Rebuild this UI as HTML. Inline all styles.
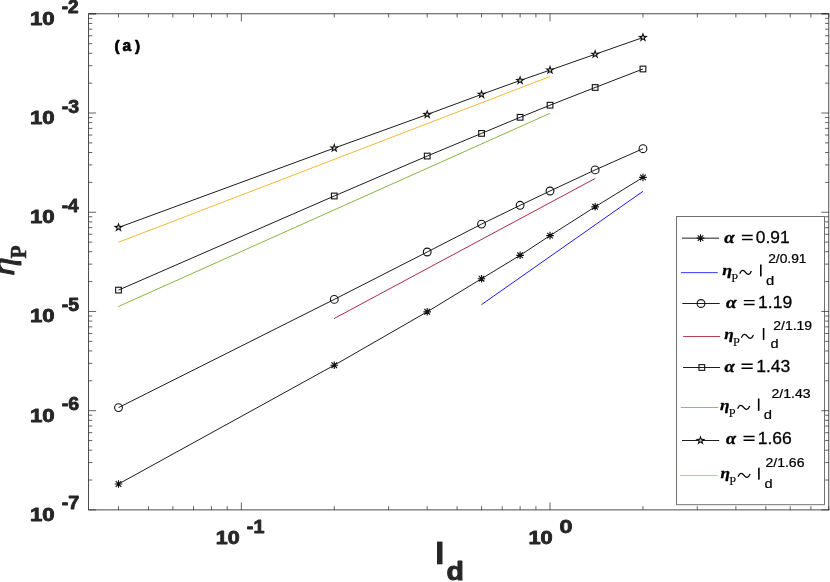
<!DOCTYPE html>
<html><head><meta charset="utf-8"><title>chart</title>
<style>html,body{margin:0;padding:0;background:#fff;overflow:hidden}svg{display:block;will-change:transform}</style>
</head><body>
<svg width="830" height="582" viewBox="0 0 830 582">
<rect x="0" y="0" width="830" height="582" fill="#ffffff"/>
<rect x="676.7" y="216.65" width="147.8" height="288.15" fill="#ffffff" stroke="#262626" stroke-width="0.66"/>
<path d="M88.60 509.90h7.50M828.80 509.90h-7.50M88.60 480.03h3.70M828.80 480.03h-3.70M88.60 462.56h3.70M828.80 462.56h-3.70M88.60 450.16h3.70M828.80 450.16h-3.70M88.60 440.55h3.70M828.80 440.55h-3.70M88.60 432.69h3.70M828.80 432.69h-3.70M88.60 426.05h3.70M828.80 426.05h-3.70M88.60 420.30h3.70M828.80 420.30h-3.70M88.60 415.22h3.70M828.80 415.22h-3.70M88.60 410.68h7.50M828.80 410.68h-7.50M88.60 380.81h3.70M828.80 380.81h-3.70M88.60 363.34h3.70M828.80 363.34h-3.70M88.60 350.94h3.70M828.80 350.94h-3.70M88.60 341.33h3.70M828.80 341.33h-3.70M88.60 333.47h3.70M828.80 333.47h-3.70M88.60 326.83h3.70M828.80 326.83h-3.70M88.60 321.08h3.70M828.80 321.08h-3.70M88.60 316.00h3.70M828.80 316.00h-3.70M88.60 311.46h7.50M828.80 311.46h-7.50M88.60 281.59h3.70M828.80 281.59h-3.70M88.60 264.12h3.70M828.80 264.12h-3.70M88.60 251.72h3.70M828.80 251.72h-3.70M88.60 242.11h3.70M828.80 242.11h-3.70M88.60 234.25h3.70M828.80 234.25h-3.70M88.60 227.61h3.70M828.80 227.61h-3.70M88.60 221.86h3.70M828.80 221.86h-3.70M88.60 216.78h3.70M828.80 216.78h-3.70M88.60 212.24h7.50M828.80 212.24h-7.50M88.60 182.37h3.70M828.80 182.37h-3.70M88.60 164.90h3.70M828.80 164.90h-3.70M88.60 152.50h3.70M828.80 152.50h-3.70M88.60 142.89h3.70M828.80 142.89h-3.70M88.60 135.03h3.70M828.80 135.03h-3.70M88.60 128.39h3.70M828.80 128.39h-3.70M88.60 122.64h3.70M828.80 122.64h-3.70M88.60 117.56h3.70M828.80 117.56h-3.70M88.60 113.02h7.50M828.80 113.02h-7.50M88.60 83.15h3.70M828.80 83.15h-3.70M88.60 65.68h3.70M828.80 65.68h-3.70M88.60 53.28h3.70M828.80 53.28h-3.70M88.60 43.67h3.70M828.80 43.67h-3.70M88.60 35.81h3.70M828.80 35.81h-3.70M88.60 29.17h3.70M828.80 29.17h-3.70M88.60 23.42h3.70M828.80 23.42h-3.70M88.60 18.34h3.70M828.80 18.34h-3.70M88.60 13.80h7.50M828.80 13.80h-7.50M88.60 13.80h7.50M828.80 13.80h-7.50M118.51 509.90v-3.70M118.51 13.80v3.70M148.43 509.90v-3.70M148.43 13.80v3.70M172.87 509.90v-3.70M172.87 13.80v3.70M193.54 509.90v-3.70M193.54 13.80v3.70M211.44 509.90v-3.70M211.44 13.80v3.70M227.23 509.90v-3.70M227.23 13.80v3.70M241.35 509.90v-7.50M241.35 13.80v7.50M334.27 509.90v-3.70M334.27 13.80v3.70M388.63 509.90v-3.70M388.63 13.80v3.70M427.20 509.90v-3.70M427.20 13.80v3.70M457.11 509.90v-3.70M457.11 13.80v3.70M481.55 509.90v-3.70M481.55 13.80v3.70M502.22 509.90v-3.70M502.22 13.80v3.70M520.12 509.90v-3.70M520.12 13.80v3.70M535.91 509.90v-3.70M535.91 13.80v3.70M550.03 509.90v-7.50M550.03 13.80v7.50M642.96 509.90v-3.70M642.96 13.80v3.70M697.31 509.90v-3.70M697.31 13.80v3.70M735.88 509.90v-3.70M735.88 13.80v3.70M765.79 509.90v-3.70M765.79 13.80v3.70M790.23 509.90v-3.70M790.23 13.80v3.70M810.90 509.90v-3.70M810.90 13.80v3.70M828.80 509.90v-3.70M828.80 13.80v3.70" stroke="#262626" stroke-width="0.72" fill="none"/>
<rect x="88.60" y="13.80" width="740.20" height="496.10" fill="none" stroke="#262626" stroke-width="0.82"/>
<line x1="118.20" y1="242.40" x2="550.00" y2="76.50" stroke="#edb120" stroke-width="0.9"/>
<line x1="118.20" y1="306.60" x2="550.00" y2="113.30" stroke="#77ac30" stroke-width="0.9"/>
<line x1="334.00" y1="318.60" x2="595.10" y2="178.50" stroke="#a2142f" stroke-width="0.9"/>
<line x1="481.40" y1="304.70" x2="643.00" y2="191.30" stroke="#0000ff" stroke-width="0.9"/>
<polyline points="118.51,227.50 334.27,148.10 427.20,114.50 481.55,94.40 520.12,80.50 550.03,70.10 595.14,54.30 642.96,37.50" fill="none" stroke="#111111" stroke-width="0.95"/>
<polygon points="118.51,222.25 119.72,225.84 123.51,225.88 120.46,228.13 121.60,231.75 118.51,229.55 115.43,231.75 116.56,228.13 113.52,225.88 117.31,225.84" fill="#111111"/><polygon points="118.51,225.60 118.97,226.87 120.32,226.91 119.26,227.74 119.63,229.04 118.51,228.28 117.40,229.04 117.77,227.74 116.71,226.91 118.06,226.87" fill="#c8c8c8"/>
<polygon points="334.27,142.85 335.48,146.44 339.27,146.48 336.22,148.73 337.36,152.35 334.27,150.15 331.19,152.35 332.32,148.73 329.28,146.48 333.07,146.44" fill="#111111"/><polygon points="334.27,146.20 334.73,147.47 336.08,147.51 335.02,148.34 335.39,149.64 334.27,148.88 333.16,149.64 333.53,148.34 332.47,147.51 333.82,147.47" fill="#c8c8c8"/>
<polygon points="427.20,109.25 428.40,112.84 432.19,112.88 429.15,115.13 430.28,118.75 427.20,116.55 424.11,118.75 425.25,115.13 422.20,112.88 425.99,112.84" fill="#111111"/><polygon points="427.20,112.60 427.65,113.87 429.00,113.91 427.94,114.74 428.31,116.04 427.20,115.28 426.08,116.04 426.45,114.74 425.39,113.91 426.74,113.87" fill="#c8c8c8"/>
<polygon points="481.55,89.15 482.76,92.74 486.55,92.78 483.50,95.03 484.64,98.65 481.55,96.45 478.47,98.65 479.60,95.03 476.56,92.78 480.35,92.74" fill="#111111"/><polygon points="481.55,92.50 482.01,93.77 483.36,93.81 482.29,94.64 482.67,95.94 481.55,95.18 480.44,95.94 480.81,94.64 479.75,93.81 481.09,93.77" fill="#c8c8c8"/>
<polygon points="520.12,75.25 521.32,78.84 525.11,78.88 522.07,81.13 523.20,84.75 520.12,82.55 517.03,84.75 518.17,81.13 515.13,78.88 518.91,78.84" fill="#111111"/><polygon points="520.12,78.60 520.58,79.87 521.93,79.91 520.86,80.74 521.24,82.04 520.12,81.28 519.00,82.04 519.38,80.74 518.31,79.91 519.66,79.87" fill="#c8c8c8"/>
<polygon points="550.03,64.85 551.24,68.44 555.03,68.48 551.98,70.73 553.12,74.35 550.03,72.15 546.95,74.35 548.08,70.73 545.04,68.48 548.83,68.44" fill="#111111"/><polygon points="550.03,68.20 550.49,69.47 551.84,69.51 550.77,70.34 551.15,71.64 550.03,70.88 548.92,71.64 549.29,70.34 548.23,69.51 549.57,69.47" fill="#c8c8c8"/>
<polygon points="595.14,49.05 596.34,52.64 600.13,52.68 597.09,54.93 598.23,58.55 595.14,56.35 592.05,58.55 593.19,54.93 590.15,52.68 593.93,52.64" fill="#111111"/><polygon points="595.14,52.40 595.60,53.67 596.95,53.71 595.88,54.54 596.26,55.84 595.14,55.08 594.02,55.84 594.40,54.54 593.33,53.71 594.68,53.67" fill="#c8c8c8"/>
<polygon points="642.96,32.25 644.16,35.84 647.95,35.88 644.90,38.13 646.04,41.75 642.96,39.55 639.87,41.75 641.01,38.13 637.96,35.88 641.75,35.84" fill="#111111"/><polygon points="642.96,35.60 643.41,36.87 644.76,36.91 643.70,37.74 644.07,39.04 642.96,38.28 641.84,39.04 642.21,37.74 641.15,36.91 642.50,36.87" fill="#c8c8c8"/>
<polyline points="118.51,290.10 334.27,196.00 427.20,156.05 481.55,133.40 520.12,117.30 550.03,105.20 595.14,87.50 642.96,69.00" fill="none" stroke="#111111" stroke-width="0.95"/>
<rect x="115.66" y="287.25" width="5.70" height="5.70" fill="none" stroke="#111111" stroke-width="1.1"/>
<rect x="331.42" y="193.15" width="5.70" height="5.70" fill="none" stroke="#111111" stroke-width="1.1"/>
<rect x="424.35" y="153.20" width="5.70" height="5.70" fill="none" stroke="#111111" stroke-width="1.1"/>
<rect x="478.70" y="130.55" width="5.70" height="5.70" fill="none" stroke="#111111" stroke-width="1.1"/>
<rect x="517.27" y="114.45" width="5.70" height="5.70" fill="none" stroke="#111111" stroke-width="1.1"/>
<rect x="547.18" y="102.35" width="5.70" height="5.70" fill="none" stroke="#111111" stroke-width="1.1"/>
<rect x="592.29" y="84.65" width="5.70" height="5.70" fill="none" stroke="#111111" stroke-width="1.1"/>
<rect x="640.11" y="66.15" width="5.70" height="5.70" fill="none" stroke="#111111" stroke-width="1.1"/>
<polyline points="118.51,407.60 334.27,299.40 427.20,252.00 481.55,224.10 520.12,205.30 550.03,191.00 595.14,169.90 642.96,148.70" fill="none" stroke="#111111" stroke-width="0.95"/>
<circle cx="118.51" cy="407.60" r="3.9" fill="none" stroke="#111111" stroke-width="1.1"/>
<circle cx="334.27" cy="299.40" r="3.9" fill="none" stroke="#111111" stroke-width="1.1"/>
<circle cx="427.20" cy="252.00" r="3.9" fill="none" stroke="#111111" stroke-width="1.1"/>
<circle cx="481.55" cy="224.10" r="3.9" fill="none" stroke="#111111" stroke-width="1.1"/>
<circle cx="520.12" cy="205.30" r="3.9" fill="none" stroke="#111111" stroke-width="1.1"/>
<circle cx="550.03" cy="191.00" r="3.9" fill="none" stroke="#111111" stroke-width="1.1"/>
<circle cx="595.14" cy="169.90" r="3.9" fill="none" stroke="#111111" stroke-width="1.1"/>
<circle cx="642.96" cy="148.70" r="3.9" fill="none" stroke="#111111" stroke-width="1.1"/>
<polyline points="118.51,484.00 334.27,365.20 427.20,311.80 481.55,278.70 520.12,255.30 550.03,235.60 595.14,206.80 642.96,177.40" fill="none" stroke="#111111" stroke-width="0.95"/>
<path d="M114.71 484.00h7.60M118.51 480.20v7.60M115.70 481.19l5.62 5.62M115.70 486.81l5.62 -5.62" stroke="#111111" stroke-width="1.15" fill="none"/>
<path d="M330.47 365.20h7.60M334.27 361.40v7.60M331.46 362.39l5.62 5.62M331.46 368.01l5.62 -5.62" stroke="#111111" stroke-width="1.15" fill="none"/>
<path d="M423.40 311.80h7.60M427.20 308.00v7.60M424.38 308.99l5.62 5.62M424.38 314.61l5.62 -5.62" stroke="#111111" stroke-width="1.15" fill="none"/>
<path d="M477.75 278.70h7.60M481.55 274.90v7.60M478.74 275.89l5.62 5.62M478.74 281.51l5.62 -5.62" stroke="#111111" stroke-width="1.15" fill="none"/>
<path d="M516.32 255.30h7.60M520.12 251.50v7.60M517.31 252.49l5.62 5.62M517.31 258.11l5.62 -5.62" stroke="#111111" stroke-width="1.15" fill="none"/>
<path d="M546.23 235.60h7.60M550.03 231.80v7.60M547.22 232.79l5.62 5.62M547.22 238.41l5.62 -5.62" stroke="#111111" stroke-width="1.15" fill="none"/>
<path d="M591.34 206.80h7.60M595.14 203.00v7.60M592.33 203.99l5.62 5.62M592.33 209.61l5.62 -5.62" stroke="#111111" stroke-width="1.15" fill="none"/>
<path d="M639.16 177.40h7.60M642.96 173.60v7.60M640.14 174.59l5.62 5.62M640.14 180.21l5.62 -5.62" stroke="#111111" stroke-width="1.15" fill="none"/>
<text transform="translate(29.96 24.77) scale(1.2386 1)" font-family='"Liberation Sans", sans-serif' font-weight="bold" font-style="normal" font-size="17.95" fill="#262626" stroke="#262626" stroke-width="0.90" stroke-linejoin="round" vector-effect="non-scaling-stroke">10</text>
<text transform="translate(61.79 13.32) scale(1.0191 1)" font-family='"Liberation Sans", sans-serif' font-weight="bold" font-style="normal" font-size="18.59" fill="#262626" stroke="#262626" stroke-width="0.90" stroke-linejoin="round" vector-effect="non-scaling-stroke">-2</text>
<text transform="translate(29.96 123.99) scale(1.2386 1)" font-family='"Liberation Sans", sans-serif' font-weight="bold" font-style="normal" font-size="17.95" fill="#262626" stroke="#262626" stroke-width="0.90" stroke-linejoin="round" vector-effect="non-scaling-stroke">10</text>
<text transform="translate(61.77 112.54) scale(1.0526 1)" font-family='"Liberation Sans", sans-serif' font-weight="bold" font-style="normal" font-size="18.59" fill="#262626" stroke="#262626" stroke-width="0.90" stroke-linejoin="round" vector-effect="non-scaling-stroke">-3</text>
<text transform="translate(29.96 223.21) scale(1.2386 1)" font-family='"Liberation Sans", sans-serif' font-weight="bold" font-style="normal" font-size="17.95" fill="#262626" stroke="#262626" stroke-width="0.90" stroke-linejoin="round" vector-effect="non-scaling-stroke">10</text>
<text transform="translate(61.80 211.76) scale(1.0151 1)" font-family='"Liberation Sans", sans-serif' font-weight="bold" font-style="normal" font-size="18.59" fill="#262626" stroke="#262626" stroke-width="0.90" stroke-linejoin="round" vector-effect="non-scaling-stroke">-4</text>
<text transform="translate(29.96 322.43) scale(1.2386 1)" font-family='"Liberation Sans", sans-serif' font-weight="bold" font-style="normal" font-size="17.95" fill="#262626" stroke="#262626" stroke-width="0.90" stroke-linejoin="round" vector-effect="non-scaling-stroke">10</text>
<text transform="translate(61.77 310.98) scale(1.0430 1)" font-family='"Liberation Sans", sans-serif' font-weight="bold" font-style="normal" font-size="18.59" fill="#262626" stroke="#262626" stroke-width="0.90" stroke-linejoin="round" vector-effect="non-scaling-stroke">-5</text>
<text transform="translate(29.96 421.65) scale(1.2386 1)" font-family='"Liberation Sans", sans-serif' font-weight="bold" font-style="normal" font-size="17.95" fill="#262626" stroke="#262626" stroke-width="0.90" stroke-linejoin="round" vector-effect="non-scaling-stroke">10</text>
<text transform="translate(61.77 410.20) scale(1.0526 1)" font-family='"Liberation Sans", sans-serif' font-weight="bold" font-style="normal" font-size="18.59" fill="#262626" stroke="#262626" stroke-width="0.90" stroke-linejoin="round" vector-effect="non-scaling-stroke">-6</text>
<text transform="translate(29.96 520.87) scale(1.2386 1)" font-family='"Liberation Sans", sans-serif' font-weight="bold" font-style="normal" font-size="17.95" fill="#262626" stroke="#262626" stroke-width="0.90" stroke-linejoin="round" vector-effect="non-scaling-stroke">10</text>
<text transform="translate(61.76 509.42) scale(1.0624 1)" font-family='"Liberation Sans", sans-serif' font-weight="bold" font-style="normal" font-size="18.59" fill="#262626" stroke="#262626" stroke-width="0.90" stroke-linejoin="round" vector-effect="non-scaling-stroke">-7</text>
<text transform="translate(215.81 544.27) scale(1.1943 1)" font-family='"Liberation Sans", sans-serif' font-weight="bold" font-style="normal" font-size="17.95" fill="#262626" stroke="#262626" stroke-width="0.90" stroke-linejoin="round" vector-effect="non-scaling-stroke">10</text>
<text transform="translate(246.86 532.82) scale(1.0626 1)" font-family='"Liberation Sans", sans-serif' font-weight="bold" font-style="normal" font-size="18.59" fill="#262626" stroke="#262626" stroke-width="0.90" stroke-linejoin="round" vector-effect="non-scaling-stroke">-1</text>
<text transform="translate(528.39 544.27) scale(1.2165 1)" font-family='"Liberation Sans", sans-serif' font-weight="bold" font-style="normal" font-size="17.95" fill="#262626" stroke="#262626" stroke-width="0.90" stroke-linejoin="round" vector-effect="non-scaling-stroke">10</text>
<text transform="translate(559.42 532.82) scale(1.2569 1)" font-family='"Liberation Sans", sans-serif' font-weight="bold" font-style="normal" font-size="18.59" fill="#262626" stroke="#262626" stroke-width="0.90" stroke-linejoin="round" vector-effect="non-scaling-stroke">0</text>
<text transform="translate(114.38 51.02) scale(0.9876 1)" font-family='"Liberation Sans", sans-serif' font-weight="bold" font-style="normal" font-size="15.55" fill="#000000" stroke="#000000" stroke-width="0.70" stroke-linejoin="round" vector-effect="non-scaling-stroke">(</text>
<text transform="translate(122.48 51.08) scale(0.9276 1)" font-family='"Liberation Sans", sans-serif' font-weight="bold" font-style="normal" font-size="16.80" fill="#000000" stroke="#000000" stroke-width="0.70" stroke-linejoin="round" vector-effect="non-scaling-stroke">a</text>
<text transform="translate(135.01 51.02) scale(0.9876 1)" font-family='"Liberation Sans", sans-serif' font-weight="bold" font-style="normal" font-size="15.55" fill="#000000" stroke="#000000" stroke-width="0.70" stroke-linejoin="round" vector-effect="non-scaling-stroke">)</text>
<rect x="437.0" y="541.6" width="5.5" height="22.7" fill="#262626"/>
<text transform="translate(446.46 580.34) scale(1.1089 1)" font-family='"Liberation Sans", sans-serif' font-weight="bold" font-style="normal" font-size="25.71" fill="#262626" stroke="#262626" stroke-width="1.00" stroke-linejoin="round" vector-effect="non-scaling-stroke">d</text>
<g transform="translate(0 275) rotate(-90)">
<text transform="translate(-0.80 13.99) scale(1.1267 1)" font-family='"Liberation Serif", serif' font-weight="normal" font-style="italic" font-size="32.97" fill="#262626" stroke="#262626" stroke-width="1.00" stroke-linejoin="round" vector-effect="non-scaling-stroke">η</text>
<text transform="translate(16.48 25.65) scale(0.9478 1)" font-family='"Liberation Serif", serif' font-weight="bold" font-style="normal" font-size="22.60" fill="#262626" stroke="#262626" stroke-width="0.50" stroke-linejoin="round" vector-effect="non-scaling-stroke">P</text>
</g>
<line x1="682.00" y1="238.15" x2="719.10" y2="238.15" stroke="#111111" stroke-width="0.95"/>
<path d="M696.70 238.15h7.60M700.50 234.35v7.60M697.69 235.34l5.62 5.62M697.69 240.96l5.62 -5.62" stroke="#111111" stroke-width="1.15" fill="none"/>
<text transform="translate(755.75 243.08) scale(1.0168 1)" font-family='"Liberation Sans", sans-serif' font-weight="normal" font-style="normal" font-size="17.10" fill="#000000" stroke="#000000" stroke-width="0.30" stroke-linejoin="round" vector-effect="non-scaling-stroke">0.91</text>
<text transform="translate(724.17 242.92) scale(1.1532 1)" font-family='"Liberation Serif", serif' font-weight="bold" font-style="italic" font-size="16.17" fill="#000000" stroke="#000000" stroke-width="0.40" stroke-linejoin="round" vector-effect="non-scaling-stroke">α</text>
<path d="M741.90 235.53H752.70M741.90 239.43H752.70" stroke="#000000" stroke-width="1.45"/>
<line x1="682.30" y1="303.50" x2="719.70" y2="303.50" stroke="#111111" stroke-width="0.95"/>
<circle cx="701.00" cy="303.50" r="3.9" fill="none" stroke="#111111" stroke-width="1.1"/>
<text transform="translate(758.03 308.18) scale(1.0370 1)" font-family='"Liberation Sans", sans-serif' font-weight="normal" font-style="normal" font-size="16.96" fill="#000000" stroke="#000000" stroke-width="0.30" stroke-linejoin="round" vector-effect="non-scaling-stroke">1.19</text>
<text transform="translate(725.96 308.02) scale(1.1756 1)" font-family='"Liberation Serif", serif' font-weight="bold" font-style="italic" font-size="16.17" fill="#000000" stroke="#000000" stroke-width="0.40" stroke-linejoin="round" vector-effect="non-scaling-stroke">α</text>
<path d="M743.80 300.63H754.60M743.80 304.53H754.60" stroke="#000000" stroke-width="1.45"/>
<line x1="683.10" y1="367.50" x2="720.10" y2="367.50" stroke="#111111" stroke-width="0.95"/>
<rect x="698.95" y="364.65" width="5.70" height="5.70" fill="none" stroke="#111111" stroke-width="1.1"/>
<text transform="translate(756.13 371.88) scale(1.0532 1)" font-family='"Liberation Sans", sans-serif' font-weight="normal" font-style="normal" font-size="16.68" fill="#000000" stroke="#000000" stroke-width="0.30" stroke-linejoin="round" vector-effect="non-scaling-stroke">1.43</text>
<text transform="translate(724.47 371.72) scale(1.1420 1)" font-family='"Liberation Serif", serif' font-weight="bold" font-style="italic" font-size="16.17" fill="#000000" stroke="#000000" stroke-width="0.40" stroke-linejoin="round" vector-effect="non-scaling-stroke">α</text>
<path d="M741.50 364.33H752.70M741.50 368.23H752.70" stroke="#000000" stroke-width="1.45"/>
<line x1="682.00" y1="440.50" x2="719.20" y2="440.50" stroke="#111111" stroke-width="0.95"/>
<polygon points="700.50,435.25 701.70,438.84 705.49,438.88 702.45,441.13 703.59,444.75 700.50,442.55 697.41,444.75 698.55,441.13 695.51,438.88 699.30,438.84" fill="#111111"/><polygon points="700.50,438.60 700.96,439.87 702.31,439.91 701.24,440.74 701.62,442.04 700.50,441.28 699.38,442.04 699.76,440.74 698.69,439.91 700.04,439.87" fill="#c8c8c8"/>
<text transform="translate(757.74 443.98) scale(1.0238 1)" font-family='"Liberation Sans", sans-serif' font-weight="normal" font-style="normal" font-size="17.10" fill="#000000" stroke="#000000" stroke-width="0.30" stroke-linejoin="round" vector-effect="non-scaling-stroke">1.66</text>
<text transform="translate(725.97 443.82) scale(1.1196 1)" font-family='"Liberation Serif", serif' font-weight="bold" font-style="italic" font-size="16.17" fill="#000000" stroke="#000000" stroke-width="0.40" stroke-linejoin="round" vector-effect="non-scaling-stroke">α</text>
<path d="M743.50 436.43H754.60M743.50 440.33H754.60" stroke="#000000" stroke-width="1.45"/>
<line x1="681.00" y1="272.65" x2="717.80" y2="272.65" stroke="#0000ff" stroke-width="0.80"/>
<text transform="translate(722.29 274.52) scale(1.3024 1)" font-family='"Liberation Serif", serif' font-weight="bold" font-style="italic" font-size="13.77" fill="#000000" stroke="#000000" stroke-width="0.30" stroke-linejoin="round" vector-effect="non-scaling-stroke">η</text>
<text transform="translate(731.18 282.15) scale(1.0257 1)" font-family='"Liberation Serif", serif' font-weight="normal" font-style="normal" font-size="12.06" fill="#000000" stroke="#000000" stroke-width="0.10" stroke-linejoin="round" vector-effect="non-scaling-stroke">P</text>
<path d="M739.70 273.80C741.37 269.40 743.58 269.80 745.55 272.40S749.73 275.40 751.40 271.00" fill="none" stroke="#000000" stroke-width="1.25"/>
<rect x="760.00" y="264.50" width="1.6" height="11.90" fill="#000000"/>
<text transform="translate(765.90 284.54) scale(1.1256 1)" font-family='"Liberation Sans", sans-serif' font-weight="normal" font-style="normal" font-size="13.13" fill="#000000" stroke="#000000" stroke-width="0.25" stroke-linejoin="round" vector-effect="non-scaling-stroke">d</text>
<text transform="translate(768.13 263.18) scale(1.1137 1)" font-family='"Liberation Sans", sans-serif' font-weight="normal" font-style="normal" font-size="12.40" fill="#000000" stroke="#000000" stroke-width="0.25" stroke-linejoin="round" vector-effect="non-scaling-stroke">2/0.91</text>
<line x1="683.10" y1="336.50" x2="720.20" y2="336.50" stroke="#a2142f" stroke-width="0.80"/>
<text transform="translate(724.30 338.52) scale(1.2575 1)" font-family='"Liberation Serif", serif' font-weight="bold" font-style="italic" font-size="13.77" fill="#000000" stroke="#000000" stroke-width="0.30" stroke-linejoin="round" vector-effect="non-scaling-stroke">η</text>
<text transform="translate(732.88 346.15) scale(1.0257 1)" font-family='"Liberation Serif", serif' font-weight="normal" font-style="normal" font-size="12.06" fill="#000000" stroke="#000000" stroke-width="0.10" stroke-linejoin="round" vector-effect="non-scaling-stroke">P</text>
<path d="M741.40 337.80C743.12 333.40 745.38 333.80 747.40 336.40S751.68 339.40 753.40 335.00" fill="none" stroke="#000000" stroke-width="1.25"/>
<rect x="762.80" y="328.00" width="1.6" height="11.90" fill="#000000"/>
<text transform="translate(770.51 348.25) scale(1.1442 1)" font-family='"Liberation Sans", sans-serif' font-weight="normal" font-style="normal" font-size="12.72" fill="#000000" stroke="#000000" stroke-width="0.25" stroke-linejoin="round" vector-effect="non-scaling-stroke">d</text>
<text transform="translate(773.23 330.48) scale(1.0779 1)" font-family='"Liberation Sans", sans-serif' font-weight="normal" font-style="normal" font-size="12.97" fill="#000000" stroke="#000000" stroke-width="0.25" stroke-linejoin="round" vector-effect="non-scaling-stroke">2/1.19</text>
<line x1="680.90" y1="407.50" x2="718.20" y2="407.50" stroke="#77ac30" stroke-width="0.80"/>
<text transform="translate(720.10 409.52) scale(1.2575 1)" font-family='"Liberation Serif", serif' font-weight="bold" font-style="italic" font-size="13.77" fill="#000000" stroke="#000000" stroke-width="0.30" stroke-linejoin="round" vector-effect="non-scaling-stroke">η</text>
<text transform="translate(728.68 417.15) scale(1.0257 1)" font-family='"Liberation Serif", serif' font-weight="normal" font-style="normal" font-size="12.06" fill="#000000" stroke="#000000" stroke-width="0.10" stroke-linejoin="round" vector-effect="non-scaling-stroke">P</text>
<path d="M737.60 408.80C739.33 404.40 741.62 404.80 743.65 407.40S747.97 410.40 749.70 406.00" fill="none" stroke="#000000" stroke-width="1.25"/>
<rect x="757.90" y="398.50" width="1.6" height="12.30" fill="#000000"/>
<text transform="translate(763.70 419.04) scale(1.1027 1)" font-family='"Liberation Sans", sans-serif' font-weight="normal" font-style="normal" font-size="13.40" fill="#000000" stroke="#000000" stroke-width="0.25" stroke-linejoin="round" vector-effect="non-scaling-stroke">d</text>
<text transform="translate(771.52 398.48) scale(1.0855 1)" font-family='"Liberation Sans", sans-serif' font-weight="normal" font-style="normal" font-size="12.97" fill="#000000" stroke="#000000" stroke-width="0.25" stroke-linejoin="round" vector-effect="non-scaling-stroke">2/1.43</text>
<line x1="680.00" y1="475.50" x2="717.30" y2="475.50" stroke="#edb120" stroke-width="0.80"/>
<text transform="translate(720.60 477.52) scale(1.2575 1)" font-family='"Liberation Serif", serif' font-weight="bold" font-style="italic" font-size="13.77" fill="#000000" stroke="#000000" stroke-width="0.30" stroke-linejoin="round" vector-effect="non-scaling-stroke">η</text>
<text transform="translate(729.18 485.15) scale(1.0257 1)" font-family='"Liberation Serif", serif' font-weight="normal" font-style="normal" font-size="12.06" fill="#000000" stroke="#000000" stroke-width="0.10" stroke-linejoin="round" vector-effect="non-scaling-stroke">P</text>
<path d="M738.10 476.80C739.80 472.40 742.05 472.80 744.05 475.40S748.30 478.40 750.00 474.00" fill="none" stroke="#000000" stroke-width="1.25"/>
<rect x="758.10" y="467.70" width="1.6" height="11.90" fill="#000000"/>
<text transform="translate(764.61 487.94) scale(1.0861 1)" font-family='"Liberation Sans", sans-serif' font-weight="normal" font-style="normal" font-size="13.40" fill="#000000" stroke="#000000" stroke-width="0.25" stroke-linejoin="round" vector-effect="non-scaling-stroke">d</text>
<text transform="translate(765.42 467.18) scale(1.0368 1)" font-family='"Liberation Sans", sans-serif' font-weight="normal" font-style="normal" font-size="13.55" fill="#000000" stroke="#000000" stroke-width="0.25" stroke-linejoin="round" vector-effect="non-scaling-stroke">2/1.66</text>
</svg>
</body></html>
